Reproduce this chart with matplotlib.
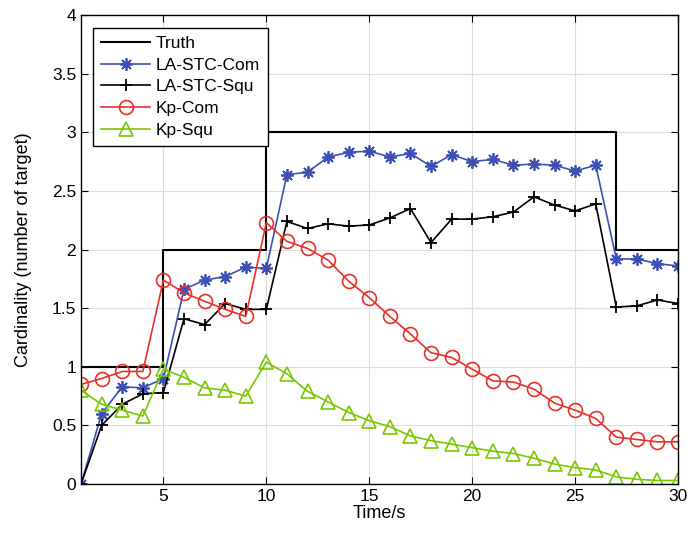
import matplotlib
matplotlib.use('Agg')
import matplotlib.pyplot as plt

# data
time = list(range(1, 31))
truth = [1, 1, 1, 1, 2, 2, 2, 2, 2, 3, 3, 3, 3, 3, 3, 3, 3, 3, 3, 3,
         3, 3, 3, 3, 3, 3, 2, 2, 2, 2]
la_stc_com = [0, 0.6, 0.83, 0.82, 0.9, 1.66, 1.74, 1.77, 1.85, 1.84,
              2.64, 2.66, 2.79, 2.83, 2.84, 2.79, 2.82, 2.71, 2.81, 2.75,
              2.77, 2.72, 2.73, 2.72, 2.67, 2.72, 1.92, 1.92, 1.88, 1.86]
la_stc_squ = [0, 0.5, 0.68, 0.77, 0.78, 1.41, 1.36, 1.54, 1.49, 1.49,
              2.24, 2.18, 2.22, 2.20, 2.21, 2.27, 2.35, 2.06, 2.26, 2.26,
              2.28, 2.32, 2.45, 2.38, 2.33, 2.39, 1.51, 1.52, 1.57, 1.54]
kp_com = [0.85, 0.9, 0.96, 0.96, 1.74, 1.63, 1.56, 1.49, 1.43, 2.23,
          2.07, 2.01, 1.91, 1.73, 1.59, 1.43, 1.28, 1.12, 1.08, 0.98,
          0.88, 0.87, 0.81, 0.69, 0.63, 0.56, 0.40, 0.38, 0.36, 0.36]
kp_squ = [0.8, 0.68, 0.63, 0.58, 0.98, 0.91, 0.82, 0.80, 0.75, 1.04,
          0.94, 0.79, 0.70, 0.61, 0.54, 0.49, 0.41, 0.37, 0.34, 0.31,
          0.28, 0.26, 0.22, 0.17, 0.14, 0.12, 0.06, 0.04, 0.03, 0.03]

plt.rcParams['font.family'] = ['Liberation Sans', 'DejaVu Sans']
plt.rcParams['font.size'] = 12

fig = plt.figure(figsize=(6.87, 5.42), dpi=100)
ax = fig.add_axes([0.118, 0.107, 0.869, 0.865])

# asterisk marker like matlab '*'
star = (8, 2, 0)

ax.plot(time, truth, color='black', lw=1.5, drawstyle='steps-post', label='Truth')
ax.plot(time, la_stc_com, color='#3e4fb3', lw=1.2, marker=star, ms=9, mew=1.3,
        label='LA-STC-Com')
ax.plot(time, la_stc_squ, color='black', lw=1.2, marker='+', ms=9, mew=1.3,
        label='LA-STC-Squ')
ax.plot(time, kp_com, color='#e8302a', lw=1.2, marker='o', ms=10, mfc='none',
        mew=1.2, label='Kp-Com')
ax.plot(time, kp_squ, color='#78c800', lw=1.2, marker='^', ms=10, mfc='none',
        mew=1.2, label='Kp-Squ')

ax.set_xlim(1, 30)
ax.set_ylim(0, 4)
ax.set_xticks([5, 10, 15, 20, 25, 30])
ax.set_yticks([0, 0.5, 1, 1.5, 2, 2.5, 3, 3.5, 4])
ax.set_yticklabels(['0', '0.5', '1', '1.5', '2', '2.5', '3', '3.5', '4'])
ax.grid(True, color='#dcdcdc', lw=0.8)
ax.set_axisbelow(True)
ax.tick_params(direction='in', top=True, right=True, length=5, labelsize=12.5)
for s in ax.spines.values():
    s.set_linewidth(1.0)
ax.set_xlabel('Time/s', fontsize=13, labelpad=1)
ax.set_ylabel('Cardinality (number of target)', fontsize=13, labelpad=14)

leg = ax.legend(loc='upper left', bbox_to_anchor=(0.012, 0.984), fancybox=False,
                edgecolor='black', framealpha=1, fontsize=12.5, handlelength=2.8,
                handletextpad=0.35, borderpad=0.45, labelspacing=0.38,
                borderaxespad=0.3)
leg.get_frame().set_linewidth(1.0)

fig.savefig('out.png', dpi=100)
